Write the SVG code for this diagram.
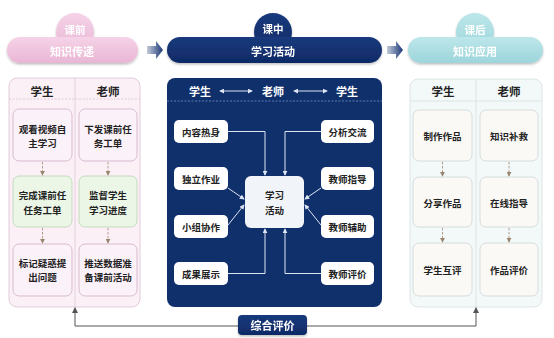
<svg xmlns="http://www.w3.org/2000/svg" width="554" height="338" viewBox="0 0 554 338">
<defs>
<linearGradient id="gPink" x1="0" y1="0" x2="0" y2="1"><stop offset="0" stop-color="#f5d3e7"/><stop offset="1" stop-color="#e9b6d5"/></linearGradient>
<linearGradient id="gNavy" x1="0" y1="0" x2="0" y2="1"><stop offset="0" stop-color="#1a3a7c"/><stop offset="1" stop-color="#0f2a66"/></linearGradient>
<linearGradient id="gTeal" x1="0" y1="0" x2="0" y2="1"><stop offset="0" stop-color="#bde7ea"/><stop offset="1" stop-color="#9cd5db"/></linearGradient>
<linearGradient id="gArrow" x1="0" y1="0" x2="1" y2="0"><stop offset="0" stop-color="#c3cbdb"/><stop offset="1" stop-color="#1c3978"/></linearGradient>
<filter id="sh" x="-10%" y="-20%" width="120%" height="150%"><feDropShadow dx="0" dy="1.5" stdDeviation="1.2" flood-color="#000" flood-opacity="0.25"/></filter>
<marker id="mDark" viewBox="0 0 6 6" refX="5" refY="3" markerWidth="6" markerHeight="6" markerUnits="userSpaceOnUse" orient="auto-start-reverse"><path d="M0,0 L6,3 L0,6 z" fill="#555"/></marker>
<marker id="mDash" viewBox="0 0 6 6" refX="5" refY="3" markerWidth="5" markerHeight="5" markerUnits="userSpaceOnUse" orient="auto"><path d="M0,0 L6,3 L0,6 z" fill="#9a8670"/></marker>
<marker id="mLight" viewBox="0 0 6 6" refX="5" refY="3" markerWidth="5" markerHeight="5" markerUnits="userSpaceOnUse" orient="auto-start-reverse"><path d="M0,0 L6,3 L0,6 z" fill="#dde5f3"/></marker>
</defs>
<style>
text{font-family:"Noto Sans CJK SC","Noto Sans",sans-serif;font-weight:700;text-anchor:middle;dominant-baseline:central}
.hw{fill:#fff;font-size:11px}
.hs{fill:#fff;font-size:10.5px}
.ph{fill:#222;font-size:11.5px}
.bt{fill:#222;font-size:9.5px}
.wt{fill:#fff;font-size:11px}
.pbox{fill:#fbf1f8;stroke:#cfaec4;stroke-width:0.8}
.gbox{fill:#ebf6e7;stroke:#b9d4b1;stroke-width:0.8}
.tbox{fill:#fbf9f6;stroke:#cdd5d6;stroke-width:0.8}
.mbox{fill:#fff;stroke:none}
.dash{stroke:#9a8670;stroke-width:0.8;stroke-dasharray:2.5 1.5;fill:none}
.lc{stroke:#dde5f3;stroke-width:1;fill:none}
</style>
<rect width="554" height="338" fill="#fff"/>

<!-- headers -->
<g id="hdr-pre" filter="url(#sh)">
<circle cx="75" cy="32" r="19" fill="url(#gPink)"/>
<rect x="7" y="37" width="131" height="26" rx="13" fill="url(#gPink)"/>
<text class="hs" x="75" y="29">课前</text>
<text class="hw" x="72" y="51">知识传递</text>
</g>
<g id="hdr-in" filter="url(#sh)">
<circle cx="273" cy="32" r="19" fill="url(#gNavy)"/>
<rect x="167" y="37" width="215" height="26" rx="13" fill="url(#gNavy)"/>
<text class="hs" x="273" y="28">课中</text>
<text class="hw" x="273" y="51">学习活动</text>
</g>
<g id="hdr-post" filter="url(#sh)">
<circle cx="475" cy="32" r="19" fill="url(#gTeal)"/>
<rect x="408" y="37" width="135" height="26" rx="13" fill="url(#gTeal)"/>
<text class="hs" x="475" y="29">课后</text>
<text class="hw" x="475" y="51">知识应用</text>
</g>

<g id="stage-arrows">
<path d="M147,46 H156 V41 L163,50 L156,59 V54 H147 z" fill="url(#gArrow)"/>
<path d="M387,46 H396 V41 L403,50 L396,59 V54 H387 z" fill="url(#gArrow)"/>
</g>

<!-- left panel -->
<g id="panel-pre">
<rect x="9" y="78" width="131" height="229" rx="8" fill="#fcf0f7" stroke="#dcc0d2" stroke-width="0.8"/>
<line x1="75" y1="78" x2="75" y2="307" stroke="#dcc6d4" stroke-width="0.8"/>
<line x1="9" y1="99" x2="140" y2="99" stroke="#d9bfd0" stroke-width="0.8" stroke-dasharray="2 1.5"/>
<text class="ph" x="42" y="91">学生</text>
<text class="ph" x="108" y="91">老师</text>
</g>
<g id="pre-s1"><rect class="pbox" x="13" y="109" width="59" height="52" rx="6"/><text class="bt" x="42.5" y="128.5">观看视频自</text><text class="bt" x="42.5" y="143">主学习</text></g>
<g id="pre-s2"><rect class="gbox" x="13" y="176" width="59" height="51" rx="6"/><text class="bt" x="42.5" y="195">完成课前任</text><text class="bt" x="42.5" y="209.5">任务工单</text></g>
<g id="pre-s3"><rect class="pbox" x="13" y="244" width="59" height="52" rx="6"/><text class="bt" x="42.5" y="262.5">标记疑惑提</text><text class="bt" x="42.5" y="277">出问题</text></g>
<g id="pre-t1"><rect class="pbox" x="79" y="109" width="58" height="52" rx="6"/><text class="bt" x="108" y="128.5">下发课前任</text><text class="bt" x="108" y="143">务工单</text></g>
<g id="pre-t2"><rect class="gbox" x="79" y="176" width="58" height="51" rx="6"/><text class="bt" x="108" y="195">监督学生</text><text class="bt" x="108" y="209.5">学习进度</text></g>
<g id="pre-t3"><rect class="pbox" x="79" y="244" width="58" height="52" rx="6"/><text class="bt" x="108" y="262.5">推送数据准</text><text class="bt" x="108" y="277">备课前活动</text></g>

<!-- middle panel -->
<g id="panel-in">
<rect x="167" y="78" width="215" height="229" rx="8" fill="#10306c"/>
<line x1="167" y1="101" x2="382" y2="101" stroke="#6f8fc8" stroke-width="0.8" stroke-dasharray="2 1.5"/>
<text class="wt" x="200" y="91">学生</text>
<text class="wt" x="273" y="91">老师</text>
<text class="wt" x="347" y="91">学生</text>
</g>
<g id="in-center"><rect x="245" y="176" width="59" height="52" rx="6" fill="#f1f4f9"/><text class="bt" x="274.5" y="195">学习</text><text class="bt" x="274.5" y="210">活动</text></g>
<g id="in-1"><rect class="mbox" x="174" y="120" width="54" height="23" rx="5"/><text class="bt" x="201" y="131.5">内容热身</text></g>
<g id="in-2"><rect class="mbox" x="174" y="167" width="54" height="23" rx="5"/><text class="bt" x="201" y="178.5">独立作业</text></g>
<g id="in-3"><rect class="mbox" x="174" y="215" width="54" height="23" rx="5"/><text class="bt" x="201" y="226.5">小组协作</text></g>
<g id="in-4"><rect class="mbox" x="174" y="262" width="54" height="23" rx="5"/><text class="bt" x="201" y="273.5">成果展示</text></g>
<g id="in-5"><rect class="mbox" x="321" y="120" width="53" height="23" rx="5"/><text class="bt" x="347.5" y="131.5">分析交流</text></g>
<g id="in-6"><rect class="mbox" x="321" y="167" width="53" height="23" rx="5"/><text class="bt" x="347.5" y="178.5">教师指导</text></g>
<g id="in-7"><rect class="mbox" x="321" y="215" width="53" height="23" rx="5"/><text class="bt" x="347.5" y="226.5">教师辅助</text></g>
<g id="in-8"><rect class="mbox" x="321" y="262" width="53" height="23" rx="5"/><text class="bt" x="347.5" y="273.5">教师评价</text></g>

<!-- right panel -->
<g id="panel-post">
<rect x="410" y="79" width="132" height="228" rx="8" fill="#f3f8f9" stroke="#d5dfe1" stroke-width="0.8"/>
<line x1="476" y1="79" x2="476" y2="307" stroke="#d5dfe1" stroke-width="0.8"/>
<line x1="410" y1="101" x2="542" y2="101" stroke="#d5dfe1" stroke-width="0.8"/>
<text class="ph" x="443" y="91">学生</text>
<text class="ph" x="509" y="91">老师</text>
</g>
<g id="post-s1"><rect class="tbox" x="413" y="110" width="59" height="51" rx="6"/><text class="bt" x="442.5" y="136">制作作品</text></g>
<g id="post-s2"><rect class="tbox" x="413" y="177" width="59" height="50" rx="6"/><text class="bt" x="442.5" y="203">分享作品</text></g>
<g id="post-s3"><rect class="tbox" x="413" y="243" width="59" height="53" rx="6"/><text class="bt" x="442.5" y="270">学生互评</text></g>
<g id="post-t1"><rect class="tbox" x="480" y="110" width="58" height="51" rx="6"/><text class="bt" x="509" y="136">知识补救</text></g>
<g id="post-t2"><rect class="tbox" x="480" y="177" width="58" height="50" rx="6"/><text class="bt" x="509" y="203">在线指导</text></g>
<g id="post-t3"><rect class="tbox" x="480" y="243" width="58" height="53" rx="6"/><text class="bt" x="509" y="270">作品评价</text></g>

<!-- connectors -->
<g id="connectors">
<line class="dash" x1="42.5" y1="162" x2="42.5" y2="175" marker-end="url(#mDash)"/>
<line class="dash" x1="42.5" y1="228" x2="42.5" y2="243" marker-end="url(#mDash)"/>
<line class="dash" x1="108" y1="162" x2="108" y2="175" marker-end="url(#mDash)"/>
<line class="dash" x1="108" y1="228" x2="108" y2="243" marker-end="url(#mDash)"/>
<line class="dash" x1="442.5" y1="162" x2="442.5" y2="176" marker-end="url(#mDash)"/>
<line class="dash" x1="442.5" y1="228" x2="442.5" y2="242" marker-end="url(#mDash)"/>
<line class="dash" x1="509" y1="162" x2="509" y2="176" marker-end="url(#mDash)"/>
<line class="dash" x1="509" y1="228" x2="509" y2="242" marker-end="url(#mDash)"/>
<line class="lc" x1="220" y1="91" x2="252" y2="91" marker-start="url(#mLight)" marker-end="url(#mLight)"/>
<line class="lc" x1="294" y1="91" x2="327" y2="91" marker-start="url(#mLight)" marker-end="url(#mLight)"/>
<path class="lc" d="M228,131.5 H265 V175" marker-end="url(#mLight)"/>
<path class="lc" d="M321,131.5 H285 V175" marker-end="url(#mLight)"/>
<path class="lc" d="M228,188 L244,199" marker-end="url(#mLight)"/>
<path class="lc" d="M321,188 L305,199" marker-end="url(#mLight)"/>
<path class="lc" d="M228,225 L244,205" marker-end="url(#mLight)"/>
<path class="lc" d="M321,225 L305,205" marker-end="url(#mLight)"/>
<path class="lc" d="M228,273.5 H265 V229" marker-end="url(#mLight)"/>
<path class="lc" d="M321,273.5 H285 V229" marker-end="url(#mLight)"/>
<path d="M75,308 V326 H476 V308" fill="none" stroke="#555" stroke-width="1" marker-start="url(#mDark)" marker-end="url(#mDark)"/>
</g>

<g id="eval" filter="url(#sh)">
<rect x="238" y="315" width="69" height="20" rx="4" fill="url(#gNavy)"/>
<text class="wt" x="272.5" y="325">综合评价</text>
</g>
</svg>
